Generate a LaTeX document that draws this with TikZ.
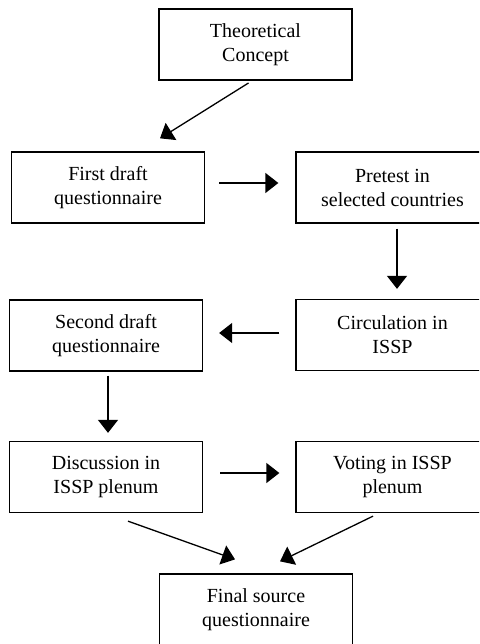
\documentclass[tikz,border=0pt]{standalone}
\usepackage{fontspec}
\setmainfont{Liberation Serif}
\usetikzlibrary{arrows.meta,calc}
\begin{document}
\begin{tikzpicture}[x=1pt,y=-1pt,
  box/.style={draw,line width=1.3pt,minimum width=193pt,minimum height=71pt,inner sep=0pt,
    align=center,font=\fontsize{20}{24}\selectfont},
  flow/.style={line width=1.3pt,-{Triangle[length=13pt,width=20pt]}}]
\clip (0,0) rectangle (479,644);
\node[box,line width=2pt] (b1) at (255.5,44.5) {Theoretical\\Concept};
\node[box] (b2) at (108,187.5) {First draft\\questionnaire};
\node[box] (b3) at (392.5,187.5) {Pretest in\\selected countries};
\node[box] (b4) at (392.5,335) {Circulation in\\ISSP};
\node[box] (b5) at (106,335.5) {Second draft\\questionnaire};
\node[box] (b6) at (106,477) {Discussion in\\ISSP plenum};
\node[box] (b7) at (392.5,477) {Voting in ISSP\\plenum};
\node[box] (b8) at (256,609.5) {Final source\\questionnaire};
\draw[flow] ($(b1.south)+(-7,2)$) -- ($(b2.north)+(52,-13)$);
\draw[flow,shorten <=14pt,shorten >=17pt] ([yshift=4.5pt]b2.east) -- ([yshift=4.5pt]b3.west);
\draw[flow,shorten <=5pt,shorten >=10pt] ([xshift=4.5pt]b3.south) -- ([xshift=4.5pt]b4.north);
\draw[flow,shorten <=16pt,shorten >=16pt] ([yshift=2pt]b4.west) -- ([yshift=2.5pt]b5.east);
\draw[flow,shorten <=4pt,shorten >=8pt] ([xshift=2pt]b5.south) -- ([xshift=2pt]b6.north);
\draw[flow,shorten <=17pt,shorten >=16pt] ([yshift=4pt]b6.east) -- ([yshift=4pt]b7.west);
\draw[flow] ($(b6.south)+(22,8)$) -- ($(b8.north)+(-21,-14)$);
\draw[flow] ($(b7.south)+(-19.5,3)$) -- ($(b8.north)+(24,-12)$);
\end{tikzpicture}
\end{document}
